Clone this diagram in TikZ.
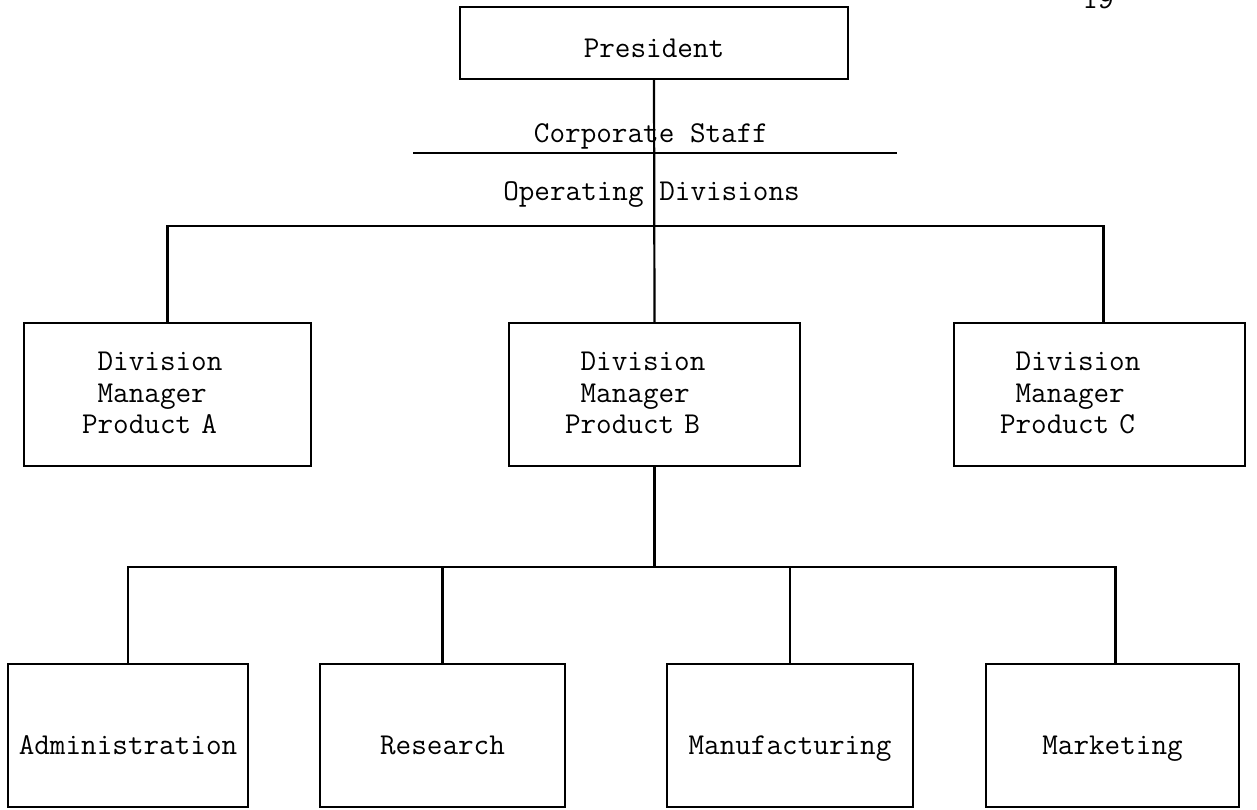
\documentclass[tikz,border=0pt]{standalone}
\usepackage{fontspec}
% typewriter face used for every label of the chart
\newcommand\orgfont{\fontsize{30.3}{31.5}\selectfont\ttfamily}
\begin{document}
\begin{tikzpicture}[x=1pt,y=-1pt,
  every node/.style={font=\orgfont},
  box/.style={draw, line width=2.3pt, rectangle, inner sep=0pt},
  divbox/.style={box, minimum height=143pt, align=left, inner ysep=0pt},
  unitbox/.style={box, minimum height=143pt, text height=38pt, text depth=0pt},
  link/.style={line width=2.2pt},
]
\useasboundingbox (0,0) rectangle (1257,810);
\fill[white] (0,0) rectangle (1257,810);

% page number at the top edge of the sheet
\node[anchor=base] (pageno) at (1098,8.5) {19};

% top of the hierarchy
\node[box, minimum width=388pt, minimum height=72pt, text height=29pt, text depth=0pt]
  (pres) at (654,43) {President};

% staff / line separation
\node[anchor=base] (corp) at (651,143) {Corporate Staff};
\coordinate (staffL) at (413,153);
\coordinate (staffR) at (897,153);
\node[anchor=base] (ops) at (651.5,201) {Operating Divisions};

% product divisions (text block sits a little high in each box)
\node[divbox, minimum width=287pt, inner xsep=58pt, text width=171pt, text depth=66pt]
  (divA) at (167.5,394.5) {\hphantom{x}Division\\\hphantom{x}Manager\\Product A};
\node[divbox, minimum width=291pt, inner xsep=56pt, text width=179pt, text depth=66pt]
  (divB) at (654.5,394.5) {\hphantom{x}Division\\\hphantom{x}Manager\\Product B};
\node[divbox, minimum width=291pt, inner xsep=46pt, text width=199pt, text depth=66pt]
  (divC) at (1099.5,394.5) {\hphantom{x}Division\\\hphantom{x}Manager\\Product C};

% functional units under division B
\node[unitbox, minimum width=240pt] (admin)    at (128,735.5)    {Administration};
\node[unitbox, minimum width=245pt] (research) at (442.5,735.5)  {Research};
\node[unitbox, minimum width=246pt] (manuf)    at (790,735.5)    {Manufacturing};
\node[unitbox, minimum width=253pt] (market)   at (1112.5,735.5) {Marketing};

% bus lines and drop points
\coordinate (divbus)  at (654.5,226);
\coordinate (unitbus) at (654.5,567);
\coordinate (dropC)   at ([xshift=4pt]divC.north);
\coordinate (dropMk)  at ([xshift=3pt]market.north);

% connectors
\draw[link] (staffL) -- (staffR);
\draw[link] (pres.south) -- (divB.north);
\draw[link] (divA.north) |- (divbus) -| (dropC);
\draw[link] (divB.south) -- (unitbus);
\draw[link] (admin.north) |- (unitbus) -| (dropMk);
\draw[link] (research.north) -- (research.north |- unitbus);
\draw[link] (manuf.north) -- (manuf.north |- unitbus);
\end{tikzpicture}
\end{document}
